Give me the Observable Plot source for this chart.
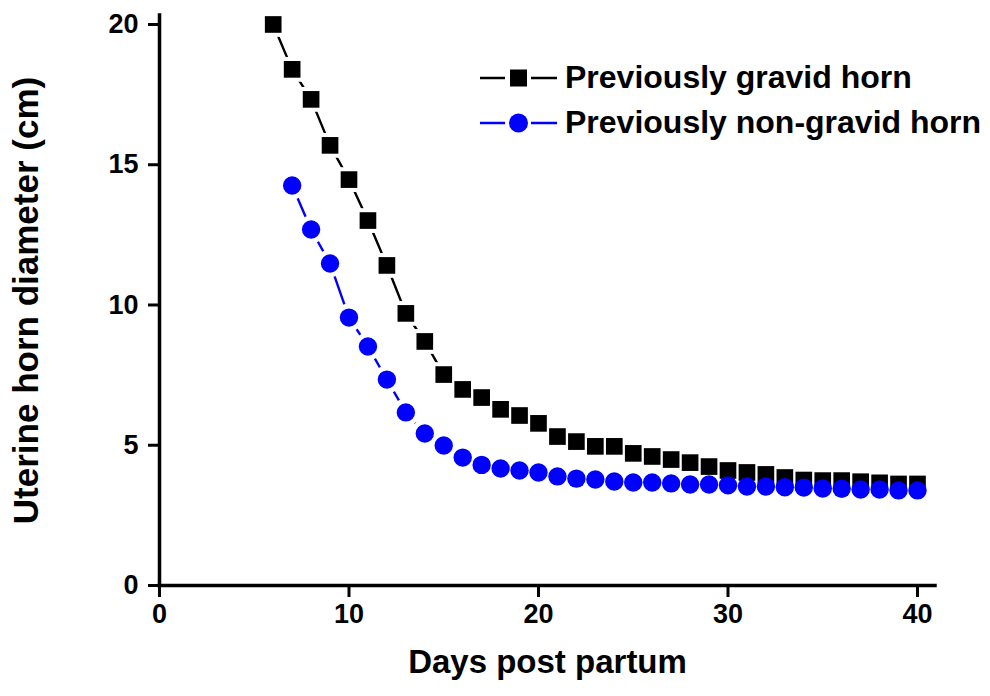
<!DOCTYPE html>
<html>
<head>
<meta charset="utf-8">
<script src="https://cdn.jsdelivr.net/npm/d3@7"></script>
<script src="https://cdn.jsdelivr.net/npm/@observablehq/plot@0.6"></script>
<style>
  html, body { margin: 0; padding: 0; background: #fff; }
  #wrap { position: relative; width: 990px; height: 696px; font-family: "Liberation Sans", Arial, sans-serif; }
  #wrap svg text { font-weight: bold; }
  #wrap svg g[aria-label="x-axis tick"],
  #wrap svg g[aria-label="y-axis tick"] { stroke-width: 3px !important; }
  .legend { position: absolute; left: 480px; top: 55px; font-weight: bold; font-size: 32px; color: #000; }
  .row { display: flex; align-items: center; height: 45px; white-space: nowrap; }
  .row svg { flex: none; margin-right: 8px; }
</style>
</head>
<body>
<div id="wrap"></div>
<script>
// ---- data ----
const gravidDays = [6,7,8,9,10,11,12,13,14,15,16,17,18,19,20,21,22,23,24,25,26,27,28,29,30,31,32,33,34,35,36,37,38,39,40];
const gravidDiameter = [20.0,18.40,17.33,15.69,14.47,13.01,11.41,9.70,8.70,7.52,6.99,6.70,6.28,6.06,5.78,5.31,5.13,4.96,4.96,4.71,4.60,4.49,4.38,4.24,4.10,4.03,3.96,3.85,3.76,3.74,3.74,3.70,3.66,3.62,3.62];
const nonGravidDays = [7,8,9,10,11,12,13,14,15,16,17,18,19,20,21,22,23,24,25,26,27,28,29,30,31,32,33,34,35,36,37,38,39,40];
const nonGravidDiameter = [14.26,12.69,11.48,9.55,8.52,7.34,6.17,5.42,4.99,4.56,4.30,4.17,4.10,4.03,3.89,3.81,3.78,3.71,3.67,3.67,3.64,3.60,3.60,3.57,3.53,3.53,3.50,3.49,3.46,3.45,3.42,3.42,3.39,3.39];
const xTicks = [0,10,20,30,40];
const yTicks = [0,5,10,15,20];
const seriesNames = ["Previously gravid horn", "Previously non-gravid horn"];
const seriesColors = ["#000000", "#0000ff"];
const xTitle = "Days post partum";
const yTitle = "Uterine horn diameter (cm)";

const gravid = gravidDays.map((d, i) => ({day: d, value: gravidDiameter[i]}));
const nonGravid = nonGravidDays.map((d, i) => ({day: d, value: nonGravidDiameter[i]}));

const font = '"Liberation Sans", Arial, sans-serif';

const chart = Plot.plot({
  width: 990,
  height: 696,
  marginLeft: 159,
  marginRight: 55,
  marginTop: 15,
  marginBottom: 111,
  style: {fontFamily: font, background: "white", color: "black"},
  x: {domain: [0, 40.95]},
  y: {domain: [0, 20.32]},
  marks: [
    Plot.line(gravid, {x: "day", y: "value", stroke: seriesColors[0], strokeWidth: 2.4}),
    Plot.line(nonGravid, {x: "day", y: "value", stroke: seriesColors[1], strokeWidth: 2.4}),
    Plot.dot(gravid, {x: "day", y: "value", symbol: "square", r: 14, fill: "white", stroke: "none"}),
    Plot.dot(nonGravid, {x: "day", y: "value", symbol: "circle", r: 14, fill: "white", stroke: "none"}),
    Plot.dot(gravid, {x: "day", y: "value", symbol: "square", r: 9.4, fill: seriesColors[0], stroke: "none"}),
    Plot.dot(nonGravid, {x: "day", y: "value", symbol: "circle", r: 9.2, fill: seriesColors[1], stroke: "none"}),
    Plot.ruleY([0], {stroke: "black", strokeWidth: 3.5, strokeLinecap: "square"}),
    Plot.ruleX([0], {stroke: "black", strokeWidth: 3.5, strokeLinecap: "square"}),
    Plot.axisX({ticks: xTicks, tickSize: 12, tickPadding: 6, fontSize: 27, fontWeight: "bold", strokeWidth: 3, label: null}),
    Plot.axisY({ticks: yTicks, tickSize: 11, tickPadding: 10, fontSize: 27, fontWeight: "bold", strokeWidth: 3, label: null}),
    Plot.text([xTitle], {frameAnchor: "bottom", dy: 87, fontSize: 33, fontWeight: "bold", fill: "black"}),
    Plot.text([yTitle], {frameAnchor: "left", textAnchor: "middle", rotate: -90, dx: -133, fontSize: 35, fontWeight: "bold", fill: "black"})
  ]
});

// make sure the tick labels use the intended size and weight
chart.querySelectorAll('g[aria-label="x-axis tick label"], g[aria-label="y-axis tick label"]').forEach(g => {
  g.setAttribute("font-size", "27");
  g.setAttribute("font-weight", "bold");
  g.style.fontSize = "27px";
});

const wrap = document.getElementById("wrap");
wrap.appendChild(chart);

// legend overlay
const legend = document.createElement("div");
legend.className = "legend";
seriesNames.forEach((name, i) => {
  const row = document.createElement("div");
  row.className = "row";
  const sw = d3.create("svg").attr("width", 77).attr("height", 24);
  sw.append("line").attr("x1", 0).attr("x2", 77).attr("y1", 12).attr("y2", 12)
    .attr("stroke", seriesColors[i]).attr("stroke-width", 2.4);
  sw.append("rect").attr("x", 25).attr("y", 0).attr("width", 26).attr("height", 24).attr("fill", "white");
  if (i === 0) {
    sw.append("rect").attr("x", 30).attr("y", 3.5).attr("width", 17).attr("height", 17).attr("fill", seriesColors[i]);
  } else {
    sw.append("circle").attr("cx", 38.5).attr("cy", 12).attr("r", 9.5).attr("fill", seriesColors[i]);
  }
  row.appendChild(sw.node());
  const t = document.createElement("span");
  t.textContent = name;
  row.appendChild(t);
  legend.appendChild(row);
});
wrap.appendChild(legend);
</script>
</body>
</html>
